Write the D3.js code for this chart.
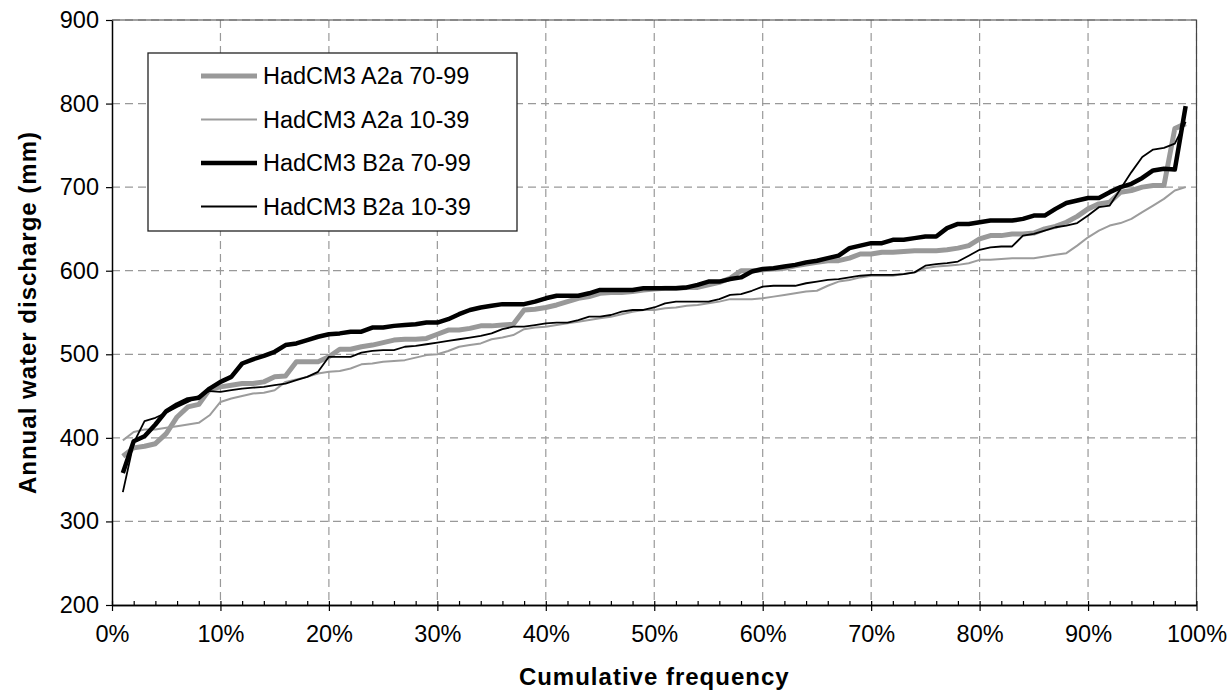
<!DOCTYPE html>
<html lang="en">

<head>
    <meta charset="utf-8">
    <style>
        body { margin: 0; background: #fff; }
        svg text { font-family: Arial, "Liberation Sans", sans-serif; fill: #000; }
        .tick-label { font-size: 23.5px; }
        .axis-title { font-size: 24px; font-weight: bold; letter-spacing: 1px; }
        .legend-text { font-size: 23.5px; }
    </style>
</head>

<body>
    <svg width="1230" height="694"></svg>
    <script src="https://d3js.org/d3.v7.min.js"></script>
    <script type="text/javascript">
    // cumulative frequency (%) of each point
    var freq = d3.range(1, 100);

    var seriesNames = ["HadCM3 A2a 70-99", "HadCM3 A2a 10-39", "HadCM3 B2a 70-99", "HadCM3 B2a 10-39"];

    var a2a7099 = [378, 388, 390, 393, 405, 425, 437, 440, 458, 461,
        463, 465, 465, 467, 473, 474, 491, 491, 491, 497,
        506, 506, 509, 511, 514, 517, 518, 518, 519, 524,
        529, 529, 531, 534, 534, 535, 536, 553, 554, 556,
        559, 563, 567, 569, 573, 574, 574, 575, 577, 578,
        579, 579, 580, 580, 583, 586, 591, 600, 600, 601,
        602, 603, 606, 608, 610, 612, 612, 615, 620, 620,
        622, 622, 623, 624, 624, 624, 625, 627, 630, 638,
        642, 642, 644, 644, 645, 650, 653, 658, 665, 674,
        680, 682, 694, 696, 700, 702, 702, 770, 776];

    var a2a1039 = [397, 407, 410, 410, 412, 414, 416, 418, 427, 443,
        447, 450, 453, 454, 457, 467, 470, 473, 477, 479,
        480, 483, 488, 489, 491, 492, 493, 496, 499, 500,
        504, 509, 511, 513, 518, 520, 523, 530, 532, 533,
        535, 537, 539, 541, 543, 545, 548, 551, 553, 553,
        555, 556, 558, 559, 561, 563, 566, 566, 566, 567,
        569, 571, 573, 575, 576, 582, 587, 589, 592, 594,
        594, 594, 596, 598, 603, 605, 606, 607, 609, 613,
        613, 614, 615, 615, 615, 617, 619, 621, 630, 640,
        648, 654, 657, 662, 670, 678, 686, 696, 700];

    var b2a7099 = [358, 396, 402, 416, 432, 440, 446, 448, 459, 467,
        473, 489, 494, 498, 503, 511, 513, 517, 521, 524,
        525, 527, 527, 532, 532, 534, 535, 536, 538, 538,
        542, 548, 553, 556, 558, 560, 560, 560, 563, 567,
        570, 570, 570, 573, 577, 577, 577, 577, 579, 579,
        579, 579, 580, 583, 587, 587, 590, 592, 599, 602,
        603, 605, 607, 610, 612, 615, 618, 627, 630, 633,
        633, 637, 637, 639, 641, 641, 651, 656, 656, 658,
        660, 660, 660, 662, 666, 666, 674, 681, 684, 687,
        687, 694, 700, 704, 711, 720, 722, 721, 797];

    var b2a1039 = [335, 394, 420, 424, 430, 437, 443, 450, 456, 455,
        457, 459, 460, 461, 463, 465, 469, 473, 479, 497,
        497, 497, 502, 504, 505, 505, 509, 510, 512, 514,
        516, 518, 520, 522, 525, 530, 533, 533, 535, 537,
        538, 538, 541, 545, 545, 547, 551, 553, 553, 556,
        561, 563, 563, 563, 563, 566, 571, 572, 576, 581,
        582, 582, 582, 585, 587, 589, 590, 592, 594, 595,
        595, 595, 596, 598, 606, 608, 609, 611, 618, 625,
        628, 629, 629, 642, 644, 648, 652, 654, 657, 666,
        676, 678, 698, 718, 736, 745, 747, 752, 778];

    var yTicks = [200, 300, 400, 500, 600, 700, 800, 900];
    var xTicks = [0, 10, 20, 30, 40, 50, 60, 70, 80, 90, 100];

    var allSeries = [a2a7099, a2a1039, b2a7099, b2a1039];
    var colors = ["#999999", "#9c9c9c", "#000000", "#000000"];
    var widths = [5, 2, 4.5, 1.8];

    //set up svg canvas
    var svg = d3.select("svg"),
        margin = { top: 20, right: 33.5, bottom: 89, left: 112 },
        width = +svg.attr("width") - margin.left - margin.right,
        height = +svg.attr("height") - margin.top - margin.bottom;

    var x = d3.scaleLinear().domain([0, 100]).range([0, width]),
        y = d3.scaleLinear().domain([200, 900]).range([height, 0]);

    var g = svg.append("g")
        .attr("transform", "translate(" + margin.left + "," + margin.top + ")");

    // dashed grid
    g.selectAll(".hgrid")
        .data(yTicks.slice(1))
        .enter().append("line")
        .attr("x1", 0).attr("x2", width)
        .attr("y1", function(d) { return y(d); })
        .attr("y2", function(d) { return y(d); })
        .attr("stroke", "#999").attr("stroke-width", 1.2)
        .attr("stroke-dasharray", "8,5");

    g.selectAll(".vgrid")
        .data(xTicks.slice(1))
        .enter().append("line")
        .attr("y1", 0).attr("y2", height)
        .attr("x1", function(d) { return x(d); })
        .attr("x2", function(d) { return x(d); })
        .attr("stroke", "#999").attr("stroke-width", 1.2)
        .attr("stroke-dasharray", "8,5");

    // plot border (top / right)
    g.append("path")
        .attr("d", "M0,0H" + width + "V" + height)
        .attr("fill", "none")
        .attr("stroke", "#444")
        .attr("stroke-width", 1.2);

    // series lines
    var line = d3.line()
        .x(function(d, i) { return x(freq[i]); })
        .y(function(d) { return y(d); });

    allSeries.forEach(function(s, k) {
        g.append("path")
            .datum(s)
            .attr("fill", "none")
            .attr("stroke", colors[k])
            .attr("stroke-width", widths[k])
            .attr("stroke-linejoin", "round")
            .attr("d", line);
    });

    // x axis: small inner ticks every 2%, labelled ticks every 10%
    var xMinor = g.append("g")
        .attr("transform", "translate(0," + height + ")")
        .call(d3.axisTop(x).tickValues(d3.range(0, 101, 2)).tickSize(4).tickSizeOuter(0).tickFormat(""));

    var xAxis = g.append("g")
        .attr("transform", "translate(0," + height + ")")
        .call(d3.axisBottom(x).tickValues(xTicks).tickSize(6).tickSizeOuter(0)
            .tickFormat(function(d) { return d + "%"; }));

    var yAxis = g.append("g")
        .call(d3.axisLeft(y).tickValues(yTicks).tickSize(6).tickSizeOuter(0));

    [xMinor, xAxis, yAxis].forEach(function(a) {
        a.selectAll(".domain").attr("stroke", "#000").attr("stroke-width", 1.5);
        a.selectAll(".tick line").attr("stroke", "#000").attr("stroke-width", 1.2);
        a.selectAll("text").attr("class", "tick-label").attr("font-family", null).attr("font-size", null);
    });
    xAxis.selectAll("text").attr("y", 20).attr("dy", "0.71em");
    yAxis.selectAll("text").attr("x", -13);

    // axis titles
    svg.append("text")
        .attr("class", "axis-title")
        .attr("x", margin.left + width / 2)
        .attr("y", 685)
        .attr("text-anchor", "middle")
        .text("Cumulative frequency");

    svg.append("text")
        .attr("class", "axis-title")
        .attr("transform", "translate(36," + (margin.top + height / 2) + ") rotate(-90)")
        .attr("text-anchor", "middle")
        .text("Annual water discharge (mm)");

    // legend
    var legend = svg.append("g").attr("transform", "translate(148,53)");
    legend.append("rect")
        .attr("width", 369).attr("height", 178)
        .attr("fill", "#fff").attr("stroke", "#222").attr("stroke-width", 1.3);

    var rows = legend.selectAll(".row")
        .data(seriesNames)
        .enter().append("g")
        .attr("transform", function(d, i) { return "translate(0," + (23 + i * 43.5) + ")"; });
    rows.append("line")
        .attr("x1", 53).attr("x2", 109)
        .attr("stroke", function(d, i) { return colors[i]; })
        .attr("stroke-width", function(d, i) { return widths[i]; });
    rows.append("text")
        .attr("class", "legend-text")
        .attr("x", 115).attr("dy", "0.35em")
        .text(function(d) { return d; });
    </script>
</body>

</html>
